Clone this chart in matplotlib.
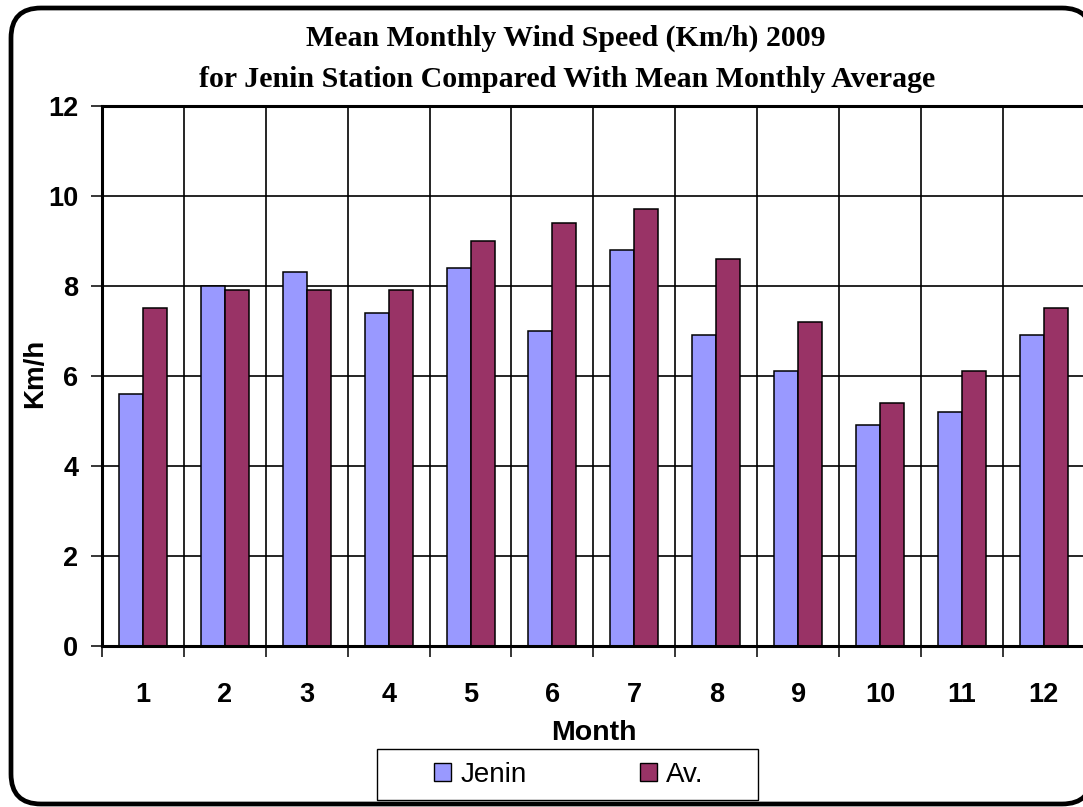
import matplotlib
matplotlib.use('agg')
import matplotlib.pyplot as plt
import numpy as np
from matplotlib.patches import PathPatch, Rectangle, Patch
from matplotlib.path import Path

months = [str(m) for m in range(1, 13)]
jenin = [5.6, 8.0, 8.3, 7.4, 8.4, 7.0, 8.8, 6.9, 6.1, 4.9, 5.2, 6.9]
average = [7.5, 7.9, 7.9, 7.9, 9.0, 9.4, 9.7, 8.6, 7.2, 5.4, 6.1, 7.5]
yticks = [0, 2, 4, 6, 8, 10, 12]

color_jenin = "#9999FF"
color_av = "#993366"
W, H = 1083, 807

plt.rcParams['font.family'] = ['Liberation Sans', 'DejaVu Sans']

fig = plt.figure(figsize=(W / 100, H / 100), dpi=100)
fig.patch.set_facecolor("white")


def rounded_frame(x0, y0, x1, y1, r):
    # rounded rectangle in inches, corners as quadratic curves
    verts = [(x0 + r, y0), (x1 - r, y0), (x1, y0), (x1, y0 + r),
             (x1, y1 - r), (x1, y1), (x1 - r, y1),
             (x0 + r, y1), (x0, y1), (x0, y1 - r),
             (x0, y0 + r), (x0, y0), (x0 + r, y0), (x0 + r, y0)]
    codes = [Path.MOVETO, Path.LINETO, Path.CURVE3, Path.CURVE3,
             Path.LINETO, Path.CURVE3, Path.CURVE3,
             Path.LINETO, Path.CURVE3, Path.CURVE3,
             Path.LINETO, Path.CURVE3, Path.CURVE3, Path.CLOSEPOLY]
    return Path(verts, codes)


# outer frame runs off the right edge like the original
# (filled so agg does not clip the curve oddly; kept behind the axes)
frame = PathPatch(rounded_frame(0.11, 0.03, 10.92, 7.99, 0.3),
                  transform=fig.dpi_scale_trans,
                  facecolor="white", edgecolor="black", lw=3.4, zorder=-1)
fig.patches.append(frame)

# plot area: right border sits just past the image edge
ax = fig.add_axes([102 / W, 1 - 645.7 / H, 982.8 / W, 540 / H])
x = np.arange(len(months))
bw = 0.293
ax.bar(x - bw / 2, jenin, bw, color=color_jenin, edgecolor="black", lw=1.1, zorder=3)
ax.bar(x + bw / 2, average, bw, color=color_av, edgecolor="black", lw=1.1, zorder=3)

ax.set_xlim(-0.5, len(months) - 0.5)
ax.set_ylim(0, 12)
ax.set_yticks(yticks)
ax.set_xticks(x)
ax.set_xticklabels(months)
ax.set_xticks(np.arange(-0.5, len(months)), minor=True)

ax.tick_params(axis="x", which="major", length=0, pad=26, labelsize=19.5)
ax.tick_params(axis="x", which="minor", length=8, width=1.1, direction="out")
ax.tick_params(axis="y", length=8, width=1.1, direction="out", pad=9, labelsize=19.5)
for lab in ax.get_xticklabels() + ax.get_yticklabels():
    lab.set_fontweight("bold")

ax.grid(which="minor", axis="x", color="black", lw=1.2, zorder=1)
ax.grid(which="major", axis="y", color="black", lw=1.2, zorder=1)
ax.set_axisbelow(True)
for s in ax.spines.values():
    s.set_linewidth(2.2)
    s.set_zorder(4)
ax.spines["right"].set_visible(False)

ax.set_ylabel("Km/h", fontsize=20, fontweight="bold", va="center")
ax.yaxis.set_label_coords(-0.0683, 0.505)
ax.set_xlabel("Month", fontsize=20.5, fontweight="bold", va="baseline")
ax.xaxis.set_label_coords(0.5, -0.1746)

fig.text(566 / W, 1 - 45.7 / H, "Mean Monthly Wind Speed (Km/h) 2009",
         family="Liberation Serif", fontweight="bold", fontsize=21.5,
         ha="center", va="baseline")
fig.text(567 / W, 1 - 87 / H, "for Jenin Station Compared With Mean Monthly Average",
         family="Liberation Serif", fontweight="bold", fontsize=21.5,
         ha="center", va="baseline")

# legend box
fig.patches.append(Rectangle((376.7 / W, 1 - 800 / H), 381 / W, 51 / H,
                             transform=fig.transFigure, facecolor="white",
                             edgecolor="black", lw=1.0))
handles = [Patch(facecolor=color_jenin, edgecolor="black", lw=1.0, label="Jenin"),
           Patch(facecolor=color_av, edgecolor="black", lw=1.0, label="Av.")]
fig.legend(handles=handles, loc="center", bbox_to_anchor=(569 / W, 1 - 774.5 / H),
           ncol=2, frameon=False, fontsize=20, handlelength=0.61, handleheight=0.61,
           handletextpad=0.32, columnspacing=4.1)

fig.savefig("out.png", dpi=100)
